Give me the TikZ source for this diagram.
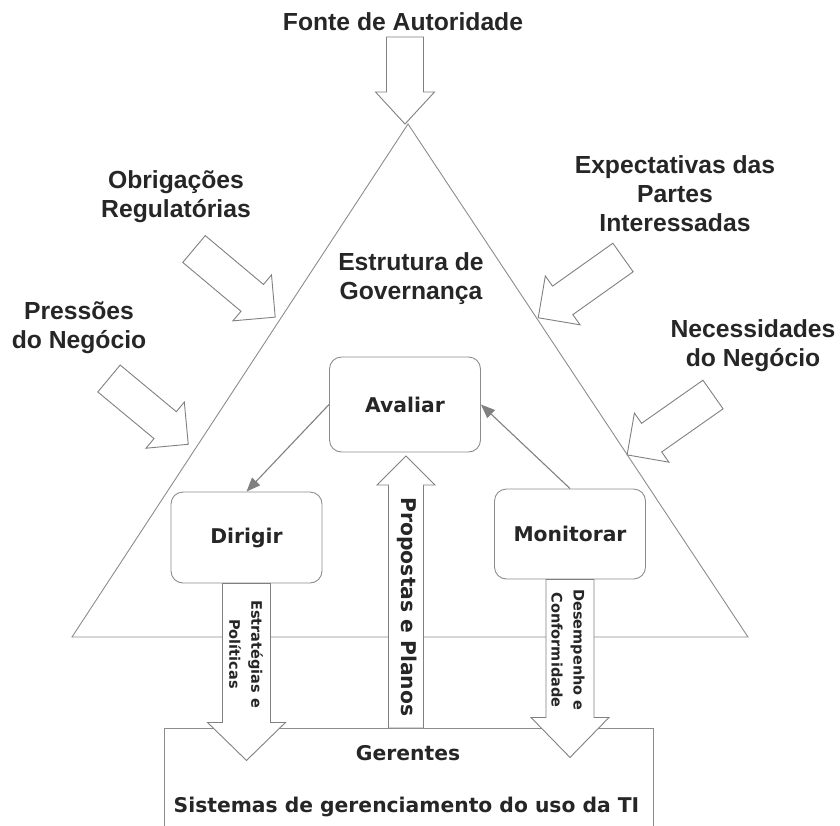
\documentclass[tikz,border=0pt]{standalone}
\usepackage{fontspec}
\setmainfont{Liberation Sans}
\newfontfamily\vfont{DejaVu Sans}
\usetikzlibrary{arrows.meta}
\newcommand{\blockarrow}[6]{%
  \draw[blockline, shift={(#1)}, rotate=#2] (0,-#4) -- ({#3-#6},-#4) -- ({#3-#6},-#5) -- (#3,0) -- ({#3-#6},#5) -- ({#3-#6},#4) -- (0,#4) -- cycle;}

\begin{document}
\begin{tikzpicture}[x=1pt, y=-1pt, line width=0.9pt,
    top/.style = {font=\bfseries\fontsize{24.7}{29}\selectfont, text=black!85, align=center},
    main/.style = {draw=gray!90, rounded corners=12pt, minimum width=151pt, minimum height=92pt, font=\vfont\bfseries\fontsize{20.3}{24}\selectfont, text=black!85},
    boxtext/.style = {font=\vfont\bfseries\fontsize{20.3}{24}\selectfont, text=black!85},
    flow/.style = {font=\vfont\bfseries\fontsize{14.5}{22}\selectfont, text=black!85, align=center, rotate=-90},
    blockline/.style = {draw=gray, fill=white},
    link/.style = {draw=gray, line width=1.1pt, -{Triangle[length=14pt, width=11pt]}}]
    \useasboundingbox (0,0) rectangle (840,825);
    \coordinate (apex) at (408,124);
    \coordinate (bl) at (72,637);
    \coordinate (br) at (748,637);
    \draw[gray!90] (apex) -- (bl) -- (br) -- cycle;
    \draw[gray!90] (164,826) -- (164,728) -- (653,728) -- (653,826);

    \node[top] (fonte) at (403,22) {Fonte de Autoridade};
    \node[top] (obrig) at (176,197) {Obrigações\\Regulatórias};
    \node[top] (press) at (79,328) {Pressões\\do Negócio};
    \node[top] (expect) at (675,194) {Expectativas das\\Partes\\Interessadas};
    \node[top] (neces) at (753,346) {Necessidades\\do Negócio};
    \node[top] (estrut) at (411,279) {Estrutura de\\Governança};

    \node[main, minimum height=95pt] (avaliar) at (405,404.5) {Avaliar};
    \node[main, minimum height=91pt] (dirigir) at (246.5,537.5) {Dirigir};
    \node[main, minimum height=90pt] (monitorar) at (570,534) {Monitorar};
    \coordinate (gerbox) at (406,728);

    \blockarrow{405,37}{-90}{87}{18.5}{29.5}{32}
    \blockarrow{194,249}{-40}{106}{17.5}{30}{30}
    \blockarrow{109,378.5}{-39.7}{103}{17.5}{30}{30}
    \blockarrow{623,257.5}{-144.6}{104}{17.5}{30}{30}
    \blockarrow{713,394.5}{-144.9}{105}{17.5}{30}{30}
    \blockarrow{dirigir.south}{-90}{177}{24}{39}{38}
    \blockarrow{monitorar.south}{-90}{178}{24}{39}{40}
    \blockarrow{gerbox}{90}{272}{17.5}{29}{29}

    \draw[link] (avaliar.west) -- (dirigir.north);
    \draw[link] (monitorar.north) -- (avaliar.east);

    \node[flow] (estrat) at (246,654) {Estratégias e\\Políticas};
    \node[flow] (desemp) at (568,650) {Desempenho e\\Conformidade};
    \node[boxtext, rotate=-90] (propost) at (407,607) {Propostas e Planos};
    \node[boxtext] (gerentes) at (408,753) {Gerentes};
    \node[boxtext] (sistemas) at (406.5,807) {Sistemas de gerenciamento do uso da TI};
\end{tikzpicture}
\end{document}
